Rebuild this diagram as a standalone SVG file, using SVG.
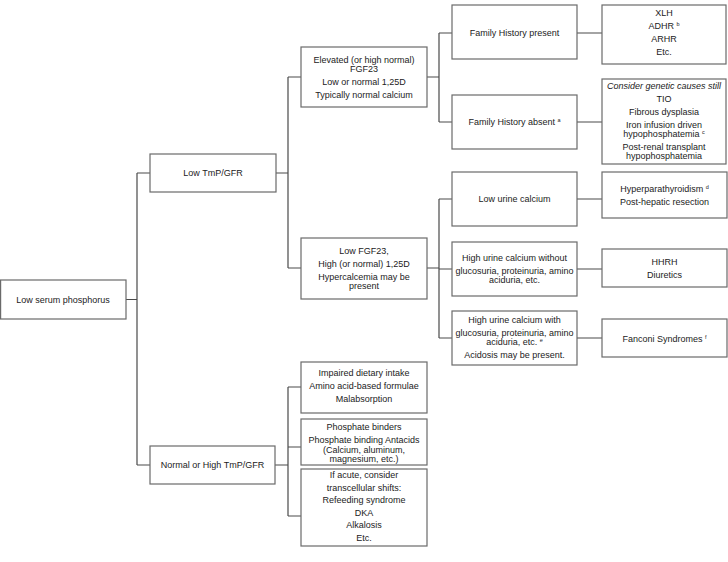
<svg xmlns="http://www.w3.org/2000/svg" width="728" height="562" viewBox="0 0 728 562">
<style>
.b{fill:#fff;stroke:#6a6a6a;stroke-width:1.2}
.c{fill:none;stroke:#4a4a4a;stroke-width:1.2}
text{font-family:"Liberation Sans",Arial,sans-serif;font-size:9px;fill:#222;text-anchor:middle}
.s{font-size:5.5px}
.i{font-style:italic}
</style>
<rect width="728" height="562" fill="#fff"/>
<g id="connectors">
<path class="c" d="M126,299.5H137M137,173V465M137,173H150M137,465H150"/>
<path class="c" d="M276,173H288M288,77V268M288,77H301M288,268H301"/>
<path class="c" d="M275,465H288M288,387V516M288,387H301M288,447H301M288,516H301"/>
<path class="c" d="M427,77H439M439,33V122M439,33H452M439,122H452"/>
<path class="c" d="M577,33H602M577,122H602"/>
<path class="c" d="M427,268H439M439,199V338M439,199H452M439,269H452M439,338H452"/>
<path class="c" d="M577,199H602M577,269H602M577,338H602"/>
</g>
<g id="n1"><rect class="b" x="0.6" y="280" width="125.4" height="39"/><text x="63" y="302.5">Low serum phosphorus</text></g>
<g id="n2"><rect class="b" x="150" y="154" width="126" height="38"/><text x="213" y="176">Low TmP/GFR</text></g>
<g id="n3"><rect class="b" x="150" y="446" width="125" height="38"/><text x="212.5" y="468">Normal or High TmP/GFR</text></g>
<g id="n4"><rect class="b" x="301" y="47" width="126" height="60"/>
<text x="364" y="63">Elevated (or high normal)</text><text x="364" y="72">FGF23</text><text x="364" y="85">Low or normal 1,25D</text><text x="364" y="98">Typically normal calcium</text></g>
<g id="n5"><rect class="b" x="301" y="238" width="126" height="61"/>
<text x="364" y="254">Low FGF23,</text><text x="364" y="267">High (or normal) 1,25D</text><text x="364" y="280">Hypercalcemia may be</text><text x="364" y="289">present</text></g>
<g id="n6"><rect class="b" x="452" y="5" width="125" height="54"/><text x="514.5" y="36">Family History present</text></g>
<g id="n7"><rect class="b" x="452" y="95" width="125" height="54"/><text x="514.5" y="125">Family History absent <tspan class="s" dy="-3">a</tspan></text></g>
<g id="n8"><rect class="b" x="602" y="5" width="124" height="59"/>
<text x="664" y="15.5">XLH</text><text x="664" y="28.5">ADHR <tspan class="s" dy="-3">b</tspan></text><text x="664" y="41.5">ARHR</text><text x="664" y="54.5">Etc.</text></g>
<g id="n9"><rect class="b" x="602" y="79" width="124" height="85"/>
<text x="664" y="89" class="i">Consider genetic causes still</text><text x="664" y="102">TIO</text><text x="664" y="115">Fibrous dysplasia</text><text x="664" y="128">Iron infusion driven</text><text x="664" y="137">hypophosphatemia <tspan class="s" dy="-3">c</tspan></text><text x="664" y="150">Post-renal transplant</text><text x="664" y="159">hypophosphatemia</text></g>
<g id="n10"><rect class="b" x="452" y="172" width="125" height="54"/><text x="514.5" y="202">Low urine calcium</text></g>
<g id="n11"><rect class="b" x="452" y="242" width="125" height="54"/>
<text x="514.5" y="261">High urine calcium without</text><text x="514.5" y="274">glucosuria, proteinuria, amino</text><text x="514.5" y="283">aciduria, etc.</text></g>
<g id="n12"><rect class="b" x="452" y="311" width="125" height="54"/>
<text x="514.5" y="323">High urine calcium with</text><text x="514.5" y="336">glucosuria, proteinuria, amino</text><text x="514.5" y="345">aciduria, etc. <tspan class="s" dy="-3">e</tspan></text><text x="514.5" y="358">Acidosis may be present.</text></g>
<g id="n13"><rect class="b" x="602" y="172" width="125" height="46"/>
<text x="664.5" y="191.5">Hyperparathyroidism <tspan class="s" dy="-3">d</tspan></text><text x="664.5" y="204.5">Post-hepatic resection</text></g>
<g id="n14"><rect class="b" x="602" y="249" width="125" height="38"/>
<text x="664.5" y="265">HHRH</text><text x="664.5" y="278">Diuretics</text></g>
<g id="n15"><rect class="b" x="602" y="319" width="125" height="38"/><text x="664.5" y="341.5">Fanconi Syndromes <tspan class="s" dy="-3">f</tspan></text></g>
<g id="n16"><rect class="b" x="301" y="362" width="126" height="51"/>
<text x="364" y="376">Impaired dietary intake</text><text x="364" y="389">Amino acid-based formulae</text><text x="364" y="402">Malabsorption</text></g>
<g id="n17"><rect class="b" x="301" y="419" width="126" height="46"/>
<text x="364" y="430">Phosphate binders</text><text x="364" y="443">Phosphate binding Antacids</text><text x="364" y="452.5">(Calcium, aluminum,</text><text x="364" y="462">magnesium, etc.)</text></g>
<g id="n18"><rect class="b" x="301" y="469" width="126" height="77"/>
<text x="364" y="478">If acute, consider</text><text x="364" y="490.5">transcellular shifts:</text><text x="364" y="503">Refeeding syndrome</text><text x="364" y="515.5">DKA</text><text x="364" y="528">Alkalosis</text><text x="364" y="540.5">Etc.</text></g>
</svg>
